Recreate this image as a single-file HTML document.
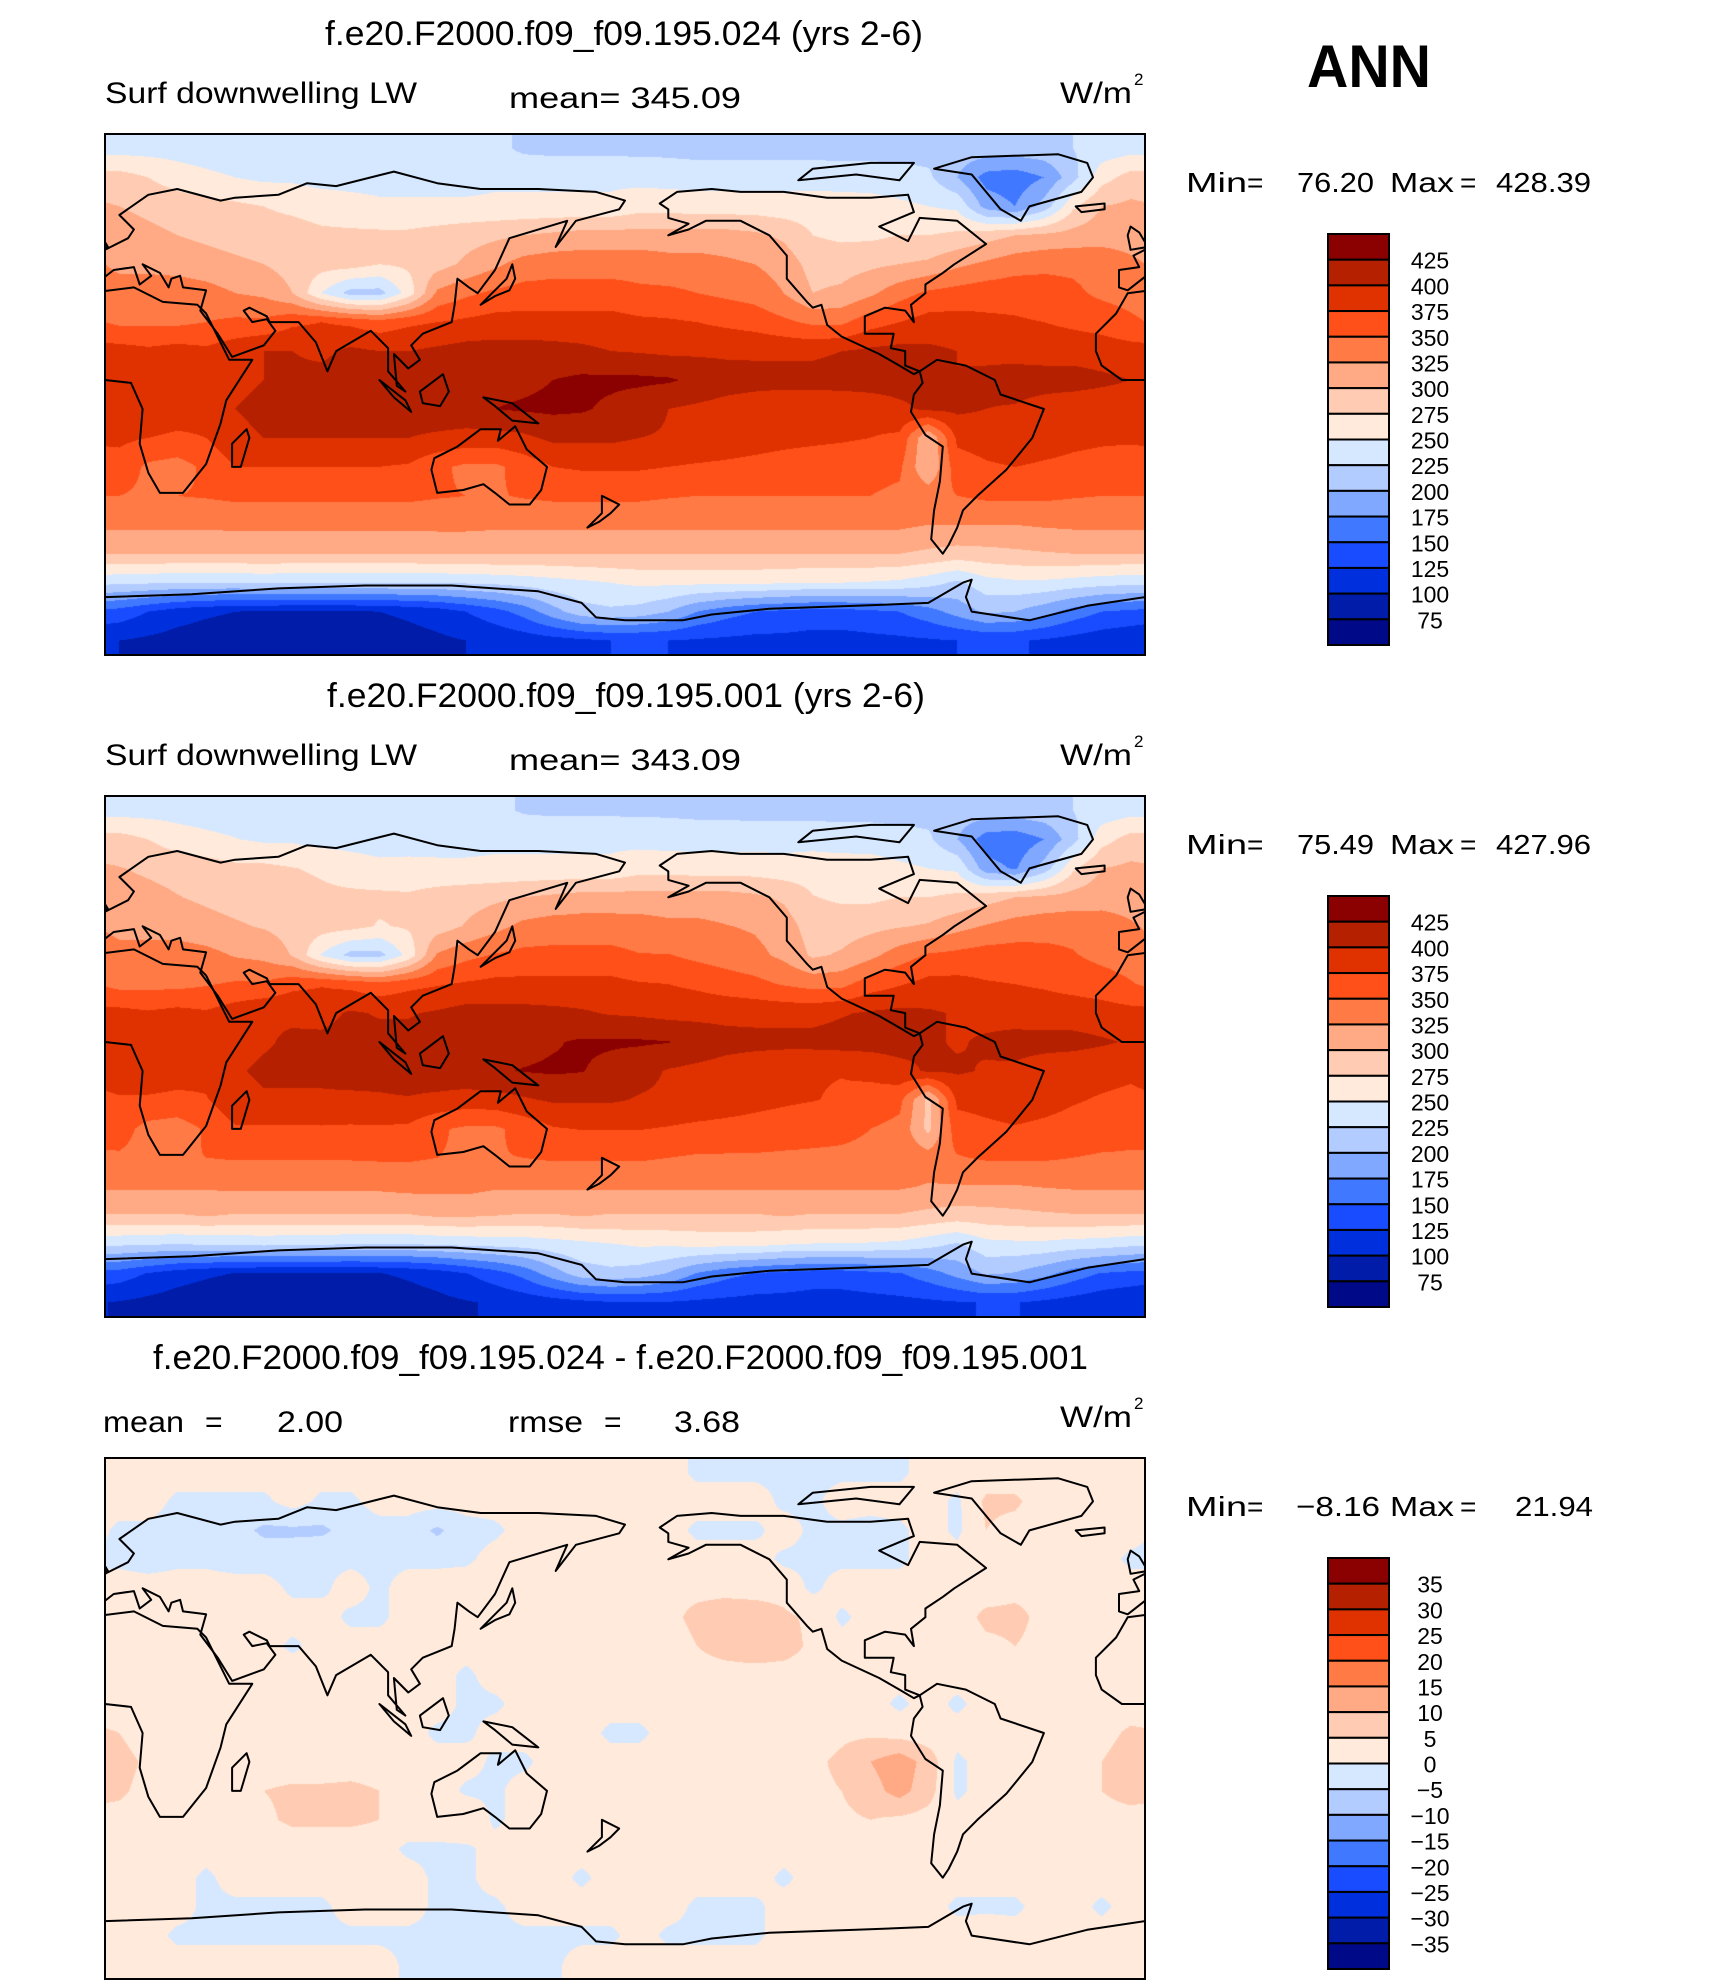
<!DOCTYPE html>
<html><head><meta charset="utf-8">
<style>
html,body{margin:0;padding:0;background:#fff;}
#wrap{position:relative;width:1710px;height:1985px;overflow:hidden;font-family:"Liberation Sans",sans-serif;}
canvas{position:absolute;left:105px;width:1040px;height:521px;}
svg{position:absolute;left:0;top:0;}
</style></head>
<body>
<div id="wrap">
<canvas id="c0" width="1040" height="521" style="top:134px"></canvas>
<canvas id="c1" width="1040" height="521" style="top:796px"></canvas>
<canvas id="c2" width="1040" height="521" style="top:1458px"></canvas>
<svg id="ov" width="1710" height="1985" xmlns="http://www.w3.org/2000/svg">
<defs><clipPath id="mclip"><rect x="105" y="0" width="1040" height="521"/></clipPath></defs>
<text x="1307" y="87" font-size="60" font-weight="bold" textLength="124" lengthAdjust="spacingAndGlyphs">ANN</text>
<text x="325" y="45" font-size="34" textLength="598" lengthAdjust="spacingAndGlyphs">f.e20.F2000.f09_f09.195.024 (yrs 2-6)</text>
<text x="105" y="103" font-size="30" textLength="312" lengthAdjust="spacingAndGlyphs">Surf downwelling LW</text>
<text x="509" y="108" font-size="30" textLength="232" lengthAdjust="spacingAndGlyphs">mean= 345.09</text>
<text x="1060" y="103" font-size="30" textLength="72" lengthAdjust="spacingAndGlyphs">W/m</text>
<text x="1134" y="85" font-size="17">2</text>
<text x="327" y="707" font-size="34" textLength="598" lengthAdjust="spacingAndGlyphs">f.e20.F2000.f09_f09.195.001 (yrs 2-6)</text>
<text x="105" y="765" font-size="30" textLength="312" lengthAdjust="spacingAndGlyphs">Surf downwelling LW</text>
<text x="509" y="770" font-size="30" textLength="232" lengthAdjust="spacingAndGlyphs">mean= 343.09</text>
<text x="1060" y="765" font-size="30" textLength="72" lengthAdjust="spacingAndGlyphs">W/m</text>
<text x="1134" y="747" font-size="17">2</text>
<text x="153" y="1369" font-size="34" textLength="935" lengthAdjust="spacingAndGlyphs">f.e20.F2000.f09_f09.195.024 - f.e20.F2000.f09_f09.195.001</text>
<text x="103" y="1432" font-size="30" textLength="81" lengthAdjust="spacingAndGlyphs">mean</text>
<text x="205" y="1432" font-size="30">=</text>
<text x="277" y="1432" font-size="30" textLength="66" lengthAdjust="spacingAndGlyphs">2.00</text>
<text x="508" y="1432" font-size="30" textLength="75" lengthAdjust="spacingAndGlyphs">rmse</text>
<text x="604" y="1432" font-size="30">=</text>
<text x="674" y="1432" font-size="30" textLength="66" lengthAdjust="spacingAndGlyphs">3.68</text>
<text x="1060" y="1427" font-size="30" textLength="72" lengthAdjust="spacingAndGlyphs">W/m</text>
<text x="1134" y="1409" font-size="17">2</text>
</svg>
</div>
<script>
const lonCenters=[5,15,25,35,45,55,65,75,85,95,105,115,125,135,145,155,165,175,185,195,205,215,225,235,245,255,265,275,285,295,305,315,325,335,345,355];
const latCenters=[85,75,65,55,45,35,25,15,5,-5,-15,-25,-35,-45,-55,-65,-75,-85];
const levelsLW=[75,100,125,150,175,200,225,250,275,300,325,350,375,400,425];
const levelsDiff=[-35,-30,-25,-20,-15,-10,-5,0,5,10,15,20,25,30,35];
const colors=["#000a88","#001ca8","#0030dd","#1a4cff","#4078ff","#80a8ff","#b3ccff","#d6e8ff","#ffeadc","#ffccb3","#ffaa85","#ff7a45","#ff5019","#e03200","#b42000","#8b0000"];
const labelsLW=["425","400","375","350","325","300","275","250","225","200","175","150","125","100","75"];
const labelsDiff=["35","30","25","20","15","10","5","0","\u22125","\u221210","\u221215","\u221220","\u221225","\u221230","\u221235"];
const statsLabels=[["76.20","428.39"],["75.49","427.96"],["\u22128.16","21.94"]];

const fieldCase1=[
[240,240,240,238,236,235,235,235,235,235,235,235,235,232,220,218,218,218,218,218,215,215,215,215,215,215,215,215,215,215,215,215,218,225,235,240],
[285,275,262,255,250,245,245,240,240,240,240,240,240,245,245,245,245,245,242,240,240,240,240,240,240,238,238,235,230,200,165,160,175,215,265,285],
[300,295,290,285,280,275,270,265,260,255,255,255,255,255,255,255,255,255,265,265,262,262,262,260,262,262,260,255,250,245,190,175,210,270,300,305],
[310,305,300,295,290,285,285,280,280,280,280,285,290,295,300,305,310,310,310,310,310,310,305,295,275,270,270,275,275,280,290,300,305,310,315,315],
[320,320,315,310,305,300,290,285,285,275,280,290,305,320,335,340,340,340,340,335,335,330,325,315,290,290,295,300,305,320,330,340,345,345,340,330],
[335,335,340,335,325,320,300,250,215,215,260,330,345,355,360,360,360,360,355,355,350,345,340,325,300,305,320,340,355,360,365,365,360,355,345,340],
[345,345,345,350,355,355,370,375,370,360,370,375,380,385,385,385,385,385,380,378,375,370,365,355,345,345,365,375,385,385,380,378,375,370,365,355],
[385,380,385,380,390,400,400,395,405,400,400,405,410,410,410,408,405,400,398,395,395,395,395,395,395,400,405,408,405,400,395,392,390,390,388,385],
[395,395,395,390,395,400,405,408,410,410,410,412,415,418,420,425,430,430,430,428,420,412,410,410,410,412,412,410,405,400,405,410,410,410,405,400],
[390,395,390,385,400,405,405,405,408,410,415,418,420,425,428,430,428,420,410,400,395,390,385,380,380,380,385,395,405,405,400,398,390,385,385,385],
[380,375,370,375,395,400,400,400,400,400,400,395,390,390,395,405,405,405,400,398,395,390,385,382,380,378,375,370,300,380,385,390,385,380,378,378],
[365,345,340,355,375,375,375,375,375,375,372,355,345,345,360,375,378,378,378,375,372,370,368,365,362,360,358,355,300,365,372,375,372,370,368,365],
[350,345,350,352,355,355,355,355,355,355,355,352,350,348,352,355,355,355,355,352,350,350,350,350,350,350,350,345,340,350,355,355,355,352,350,350],
[330,330,330,330,332,332,332,332,332,332,332,332,332,330,330,330,330,330,330,330,330,330,330,330,330,330,330,330,325,325,325,325,328,330,330,330],
[300,300,300,300,300,300,300,300,300,300,300,302,302,302,300,300,300,300,300,300,300,300,300,300,300,300,300,300,295,290,292,295,298,300,300,300],
[230,228,225,225,225,228,225,225,225,225,225,225,228,230,235,240,245,250,255,255,255,255,255,252,250,250,248,245,235,220,240,245,245,240,235,232],
[140,125,112,105,100,98,98,98,98,100,105,112,125,140,160,190,215,220,215,200,175,160,150,145,140,140,145,150,165,185,205,200,185,165,150,145],
[100,95,90,85,82,80,80,80,82,85,90,95,100,105,110,115,120,125,125,125,122,120,118,118,116,116,118,120,122,125,128,128,122,116,110,105]
];
const fieldCase2=[
[240,240,240,238,236,235,235,235,235,235,235,235,235,232,222,220,220,220,220,220,218,218,216,216,216,216,216,215,215,215,215,215,218,225,235,240],
[285,275,262,256,251,246,246,241,241,240,240,240,240,245,245,245,245,245,242,240,240,240,240,241,241,238,238,235,230,200,162,158,175,215,265,285],
[301,296,292,287,281,281,276,271,262,256,257,256,256,255,255,255,255,255,265,265,263,263,263,260,263,263,262,255,250,246,185,172,210,270,300,305],
[311,307,301,296,291,287,286,281,281,281,279,286,290,295,300,305,310,310,310,310,310,310,305,296,276,271,270,275,275,280,290,300,305,310,315,315],
[318,318,313,308,303,298,291,286,283,273,278,288,302,317,332,337,337,337,336,331,331,326,322,312,288,288,293,298,303,317,327,336,341,342,337,328],
[333,333,338,333,323,318,298,248,216,216,258,328,343,352,357,357,357,357,351,351,344,338,332,319,296,303,318,338,353,357,362,361,357,352,343,338],
[342,343,343,348,353,353,368,373,368,358,368,373,378,382,382,382,382,382,377,375,370,363,357,348,341,343,363,373,383,383,377,375,372,367,362,352],
[383,378,383,378,388,398,397,392,403,398,398,403,410,408,408,406,403,398,396,392,392,392,392,392,392,398,403,406,403,398,393,390,388,388,386,383],
[392,393,393,388,393,398,403,406,408,408,408,410,415,418,418,423,428,428,428,426,418,410,408,408,408,410,410,410,403,398,403,408,408,408,403,398],
[385,393,388,383,398,403,403,403,406,408,413,418,420,423,426,428,426,418,408,398,393,388,383,377,377,376,381,392,403,403,398,396,388,383,382,379],
[373,371,368,373,393,398,398,398,397,397,398,393,388,390,397,403,403,403,398,396,393,388,383,379,376,372,365,357,292,380,383,388,383,377,373,370],
[359,342,338,353,372,371,371,372,371,372,370,353,346,346,358,373,376,376,376,373,369,367,365,362,358,355,350,343,293,365,370,373,370,367,363,358],
[347,343,348,350,352,352,352,352,352,353,353,350,348,349,350,353,353,353,353,350,347,347,347,346,346,346,345,341,337,348,353,353,353,350,347,347],
[328,328,328,328,330,330,330,330,330,330,333,333,333,328,328,328,328,328,328,328,328,328,328,328,328,328,328,328,323,323,323,323,326,328,328,328],
[298,298,298,301,298,298,298,298,298,298,298,303,303,300,298,298,301,298,298,298,298,298,298,301,298,298,298,298,293,288,290,293,296,298,298,298],
[228,226,223,226,226,229,226,226,223,223,223,226,229,231,233,238,243,248,253,253,256,256,256,250,248,248,246,243,233,221,241,243,243,238,236,230],
[138,123,111,104,99,97,97,97,97,99,104,111,124,139,158,188,213,218,213,198,173,158,148,143,138,138,143,148,163,183,203,198,183,163,148,143],
[98,93,88,83,80,78,78,78,80,83,88,93,98,103,108,113,118,123,123,123,120,118,116,116,114,114,116,118,120,123,126,126,120,114,108,103]
];
const fieldDiff=[
[2,2,2,2,2,2,2,2,2,2,2,2,2,2,2,2,2,2,2,2,-1,-1,-1,-1,-1,-1,-1,-1,2,2,2,2,2,2,2,2],
[2,2,-1,-1,-1,-1,2,-1,-1,2,2,2,2,2,2,2,2,2,2,2,2,2,2,-1,-1,2,2,2,2,-1,6,6,2,2,2,2],
[-1,-1,-2,-3,-3,-6,-6,-6,-3,-2,-2,-6,-2,-1,2,1,2,2,2,2,-1,-1,-1,2,-1,-1,-2,-1,2,-1,5,3,2,2,2,2],
[-1,-2,-1,-1,-2,-2,-2,-1,-1,-1,-1,-1,-1,2,2,2,2,2,2,2,2,2,2,-1,-1,-1,-1,-1,2,2,2,2,2,2,2,-1],
[2,2,2,2,2,2,-1,-1,2,-1,2,2,3,3,3,3,3,3,4,4,4,4,3,3,-1,2,2,2,2,3,3,4,4,3,3,2],
[2,2,2,2,2,2,2,2,-1,-1,2,2,2,3,3,3,3,3,4,4,6,7,8,6,4,-1,2,2,2,3,6,6,4,3,2,2],
[3,2,2,2,2,2,-1,2,2,2,2,2,2,3,3,3,3,3,3,3,5,7,8,7,4,2,2,2,2,2,4,5,4,3,3,3],
[2,2,2,2,2,2,3,3,2,2,2,2,-1,2,2,2,2,2,2,3,3,3,3,3,3,2,2,2,2,2,2,4,2,2,2,2],
[3,2,2,2,2,2,2,2,2,2,2,2,-1,-1,2,2,2,2,2,2,2,2,2,2,2,2,2,-1,2,-1,2,2,2,2,2,2],
[5,2,2,2,2,2,2,2,2,2,2,-1,-1,2,2,2,2,-1,-1,2,2,2,2,3,3,4,4,3,2,2,2,2,2,2,3,6],
[7,4,2,2,2,2,2,2,3,3,2,2,2,-1,-1,2,2,2,2,2,2,2,2,3,4,6,10,13,8,-1,2,2,2,3,5,8],
[6,3,2,2,3,5,6,6,6,5,4,3,-1,-1,2,2,2,4,4,2,3,3,3,3,4,5,8,12,7,-1,2,2,2,3,5,7],
[3,2,2,2,3,4,6,6,6,5,3,3,5,-1,2,2,2,5,4,2,3,3,5,4,4,4,5,4,3,2,2,2,2,2,3,3],
[2,2,2,2,2,2,2,2,2,2,-1,-1,-1,2,2,2,2,2,2,2,2,2,2,2,2,2,2,2,2,2,2,2,2,2,2,2],
[2,2,2,-1,2,2,2,2,2,2,2,-1,-1,2,2,2,-1,2,2,2,2,2,2,-1,2,2,2,2,2,2,2,2,2,2,2,2],
[2,2,2,-1,-1,-1,-1,-1,2,2,2,-1,-1,-1,2,2,2,2,2,2,-1,-1,-1,2,2,2,2,2,2,-1,-1,-1,2,2,-1,2],
[2,2,-1,-1,-1,-1,-1,-1,-1,-1,-1,-1,-1,-1,-1,-1,-1,-1,2,-1,-1,-1,-1,2,2,2,2,2,2,2,3,2,2,2,2,2],
[2,2,2,2,2,2,2,2,2,2,-1,-1,-1,-1,-1,-1,2,2,2,2,2,2,2,2,2,2,2,2,2,2,2,2,2,2,2,2]
];

const MAPX=105, MAPW=1040, MAPH=521;
const panelTops=[134,796,1458];
function hex(c){return [parseInt(c.substr(1,2),16),parseInt(c.substr(3,2),16),parseInt(c.substr(5,2),16)];}
const rgb=colors.map(hex);
function levelIndex(v,levels){let i=0;while(i<levels.length&&v>=levels[i])i++;return i;}
function sample(grid,lon,lat){
  const nc=lonCenters.length, nr=latCenters.length;
  let cf=(lon-lonCenters[0])/(lonCenters[1]-lonCenters[0]);
  cf=((cf%nc)+nc)%nc;
  const c0=Math.floor(cf), c1=(c0+1)%nc, fx=cf-c0;
  let rf=(latCenters[0]-lat)/(latCenters[0]-latCenters[1]);
  rf=Math.max(0,Math.min(nr-1,rf));
  const r0=Math.min(nr-2,Math.floor(rf)), fy=rf-r0, r1=r0+1;
  const a=grid[r0][c0]*(1-fx)+grid[r0][c1]*fx;
  const b=grid[r1][c0]*(1-fx)+grid[r1][c1]*fx;
  return a*(1-fy)+b*fy;
}
function drawField(id,grid,levels){
  const cv=document.getElementById(id), ctx=cv.getContext('2d');
  const img=ctx.createImageData(MAPW,MAPH);
  for(let py=0;py<MAPH;py++){
    const lat=90-(py+0.5)/MAPH*180;
    for(let px=0;px<MAPW;px++){
      const lon=(px+0.5)/MAPW*360;
      const v=sample(grid,lon,lat);
      const c=rgb[levelIndex(v,levels)];
      const k=(py*MAPW+px)*4;
      img.data[k]=c[0];img.data[k+1]=c[1];img.data[k+2]=c[2];img.data[k+3]=255;
    }
  }
  ctx.putImageData(img,0,0);
}
drawField('c0',fieldCase1,levelsLW);
drawField('c1',fieldCase2,levelsLW);
drawField('c2',fieldDiff,levelsDiff);

const coasts=[
 {n:'africa',p:[[-17,21],[-10,28],[-6,35],[10,37],[20,32],[32,31],[35,28],[43,12],[51,12],[42,-2],[40,-10],[35,-24],[27,-34],[19,-34],[15,-27],[12,-17],[13,-5],[9,4],[0,5],[-8,5],[-15,10],[-17,15]],c:true},
 {n:'eurasia',p:[[-9,37],[-9,43],[-2,44],[-4,48],[2,51],[8,54],[10,57],[5,62],[15,69],[25,71],[40,67],[45,68],[60,69],[70,73],[80,72],[100,77],[115,73],[130,71],[150,71],[170,70],[180,67],[178,64],[163,60],[156,51],[160,60],[140,54],[135,43],[129,35],[126,37],[122,40],[121,31],[120,25],[110,21],[106,17],[109,12],[105,9],[100,14],[101,3],[104,1],[98,8],[98,16],[92,22],[80,15],[77,8],[73,18],[67,25],[57,25],[56,27],[50,30],[48,29],[51,25],[56,26],[59,22],[55,17],[44,13],[39,21],[33,29],[35,36],[27,37],[26,41],[23,40],[22,37],[19,42],[13,45],[16,41],[12,38],[10,44],[3,43],[-6,36]],c:true},
 {n:'north-america',p:[[-168,66],[-162,70],[-150,71],[-140,70],[-125,70],[-110,68],[-95,68],[-82,69],[-80,63],[-92,58],[-82,53],[-78,61],[-65,60],[-55,52],[-66,45],[-70,42],[-76,38],[-76,35],[-81,31],[-80,25],[-83,29],[-90,30],[-97,27],[-97,21],[-90,21],[-87,21],[-88,16],[-83,15],[-83,10],[-78,8],[-80,7],[-85,10],[-92,14],[-105,20],[-110,24],[-112,31],[-115,30],[-117,32],[-124,40],[-124,48],[-130,55],[-140,60],[-152,60],[-158,57],[-165,55],[-158,59],[-165,61],[-165,64]],c:true},
 {n:'canadian-archipelago',p:[[-120,74],[-100,76],[-85,74],[-80,80],[-95,80],[-115,78]],c:true},
 {n:'south-america',p:[[-78,8],[-72,12],[-62,10],[-52,5],[-50,0],[-35,-5],[-39,-15],[-48,-26],[-58,-35],[-63,-40],[-65,-46],[-68,-52],[-70,-55],[-74,-50],[-73,-40],[-71,-30],[-70,-18],[-76,-14],[-81,-6],[-80,0],[-77,4]],c:true},
 {n:'australia',p:[[114,-22],[122,-18],[130,-12],[137,-12],[136,-16],[142,-11],[146,-19],[153,-25],[151,-33],[147,-38],[140,-38],[135,-34],[131,-31],[124,-33],[115,-34],[113,-26]],c:true},
 {n:'greenland',p:[[-73,78],[-60,82],[-30,83],[-20,80],[-18,75],[-22,70],[-40,65],[-43,60],[-50,64],[-55,70],[-60,76]],c:true},
 {n:'madagascar',p:[[44,-25],[47,-25],[50,-15],[49,-12],[44,-17]],c:true},
 {n:'japan',p:[[130,31],[135,34],[140,36],[142,40],[141,45],[139,40],[134,35]],c:true},
 {n:'uk',p:[[-5,50],[1,51],[-2,56],[-5,58],[-6,55]],c:true},
 {n:'iceland',p:[[-24,65],[-14,66],[-14,64],[-22,63]],c:true},
 {n:'borneo',p:[[109,1],[117,7],[119,1],[116,-4],[110,-3]],c:true},
 {n:'sumatra',p:[[95,5],[104,-2],[106,-6],[100,-1]],c:true},
 {n:'new-guinea',p:[[131,-1],[141,-3],[150,-10],[141,-9],[135,-4]],c:true},
 {n:'new-zealand',p:[[172,-35],[178,-38],[175,-41],[171,-44],[167,-46],[172,-41]],c:true},
 {n:'antarctica',p:[[-180,-78],[-160,-78],[-150,-76],[-130,-74],[-100,-73],[-75,-72],[-63,-65],[-60,-64],[-62,-70],[-60,-75],[-40,-78],[-20,-73],[0,-70],[30,-69],[60,-67],[90,-66],[120,-66],[150,-68],[165,-72],[170,-77],[180,-78]],c:false}
];
const NS='http://www.w3.org/2000/svg';
const ov=document.getElementById('ov');
function el(tag,attrs,parent){const e=document.createElementNS(NS,tag);for(const k in attrs)e.setAttribute(k,attrs[k]);(parent||ov).appendChild(e);return e;}

panelTops.forEach((top,pi)=>{
  const g=el('g',{transform:'translate(0,'+top+')','clip-path':'url(#mclip)'});
  
  
  coasts.forEach(cst=>{
    [0,360].forEach(off=>{
      const pts=cst.p.map(q=>{const lon=q[0]+off;const x=MAPX+lon/360*MAPW;const y=(90-q[1])/180*MAPH;return x.toFixed(1)+','+y.toFixed(1);}).join(' ');
      const s=el(cst.c?'polygon':'polyline',{points:pts,fill:'none',stroke:'#000','stroke-width':'2','stroke-linejoin':'round'},g);
      
      
    });
  });
  const fr=el('rect',{x:MAPX,y:top,width:MAPW,height:MAPH,fill:'none',stroke:'#000','stroke-width':'2'});
  
  

  const cbTop=top+100, cbH=411, cbX=1328, cbW=61, nb=colors.length, bh=cbH/nb;
  for(let i=0;i<nb;i++){
    const r=el('rect',{x:cbX,y:(cbTop+i*bh).toFixed(2),width:cbW,height:bh.toFixed(2),fill:colors[nb-1-i],stroke:'#000','stroke-width':'2'});
    
    
  }
  const labs=pi<2?labelsLW:labelsDiff;
  labs.forEach((t,i)=>{
    const tx=el('text',{x:1430,y:(cbTop+(i+1)*bh+9).toFixed(1),'font-size':'23','text-anchor':'middle'});
    tx.textContent=t;
    
    
  });
  const by=top+58;
  const st=statsLabels[pi];
  const parts=[['Min',1186,61],['=',1247,0],[st[0],pi<2?1297:1296,pi<2?77:84],['Max',1390,64],['=',1460,0],[st[1],pi<2?1496:1515,pi<2?95:78]];
  parts.forEach(pp=>{
    const a={x:pp[1],y:by,'font-size':'28'};
    if(pp[2]>0){a.textLength=pp[2];a.lengthAdjust='spacingAndGlyphs';}
    const tx=el('text',a);
    tx.textContent=pp[0];
    
    
  });
});
</script>
</body></html>
